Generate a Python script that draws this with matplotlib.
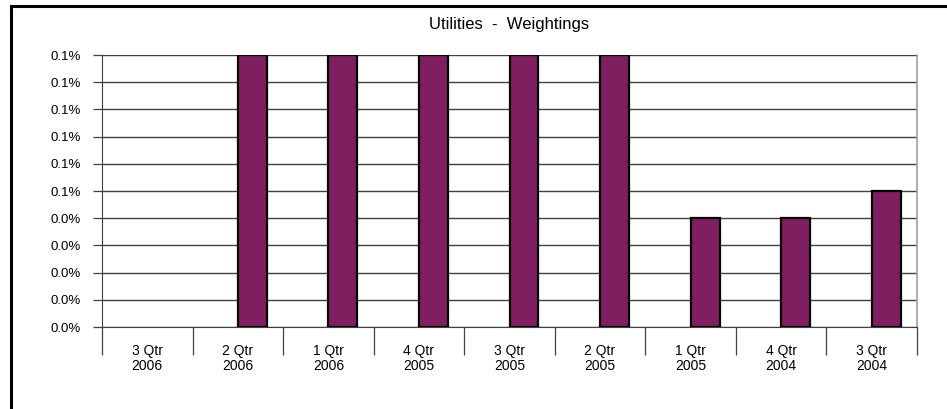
import matplotlib
matplotlib.use("Agg")
import matplotlib.pyplot as plt
from matplotlib.patches import Rectangle
import numpy as np

categories = ["3 Qtr\n2006", "2 Qtr\n2006", "1 Qtr\n2006", "4 Qtr\n2005", "3 Qtr\n2005",
              "2 Qtr\n2005", "1 Qtr\n2005", "4 Qtr\n2004", "3 Qtr\n2004"]
weights = [0.0, 0.001, 0.001, 0.001, 0.001, 0.001, 0.0004, 0.0004, 0.0005]
y_ticks = [0.0, 0.0001, 0.0002, 0.0003, 0.0004, 0.0005, 0.0006, 0.0007, 0.0008, 0.0009, 0.001]
y_tick_labels = ["0.0%", "0.0%", "0.0%", "0.0%", "0.0%", "0.1%", "0.1%", "0.1%", "0.1%", "0.1%", "0.1%"]
title = "Utilities  -  Weightings"

plt.rcParams['font.family'] = ['Liberation Sans', 'DejaVu Sans']

W, H = 947, 409
fig = plt.figure(figsize=(W / 100, H / 100), dpi=100)
ax = fig.add_axes([102 / W, 1 - 327 / H, (917 - 102) / W, (327 - 55) / H])

x = np.arange(len(categories))
bars = ax.bar(x, weights, width=0.32, align="edge", color="#7f1f5f",
              edgecolor="black", linewidth=1.6, zorder=3)
for b, v in zip(bars, weights):
    if v == 0:
        b.set_visible(False)

ax.set_xlim(-0.5, len(categories) - 0.5)
ax.set_ylim(y_ticks[0], y_ticks[-1])
ax.set_yticks(y_ticks)
ax.set_yticklabels(y_tick_labels, fontsize=9.5)
ax.yaxis.grid(True, color="#404040", linewidth=1.0, zorder=0)
ax.tick_params(axis="y", direction="out", length=6.5, color="#404040", pad=8.5, width=0.9)

ax.set_xticks(x)
ax.set_xticklabels(categories, fontsize=10, linespacing=1.1)
ax.tick_params(axis="x", which="major", length=0, pad=12)
ax.set_xticks(np.arange(-0.5, len(categories)), minor=True)
ax.tick_params(axis="x", which="minor", length=20, color="#404040", width=0.9, direction="out")

ax.spines["top"].set_visible(False)
ax.spines["right"].set_color("#a0a0a0")
ax.spines["right"].set_linewidth(1.2)
ax.spines["left"].set_color("#404040")
ax.spines["bottom"].set_color("#404040")

fig.text((102 + 917) / 2 / W, 1 - 24 / H, title, ha="center", va="center", fontsize=12)

fig.patches.append(Rectangle((11 / W, -0.5), 2.0, 0.5 + 1 - 6 / H, transform=fig.transFigure,
                             fill=False, edgecolor="black", linewidth=2.2, clip_on=False))

fig.savefig("out.png", dpi=100)
